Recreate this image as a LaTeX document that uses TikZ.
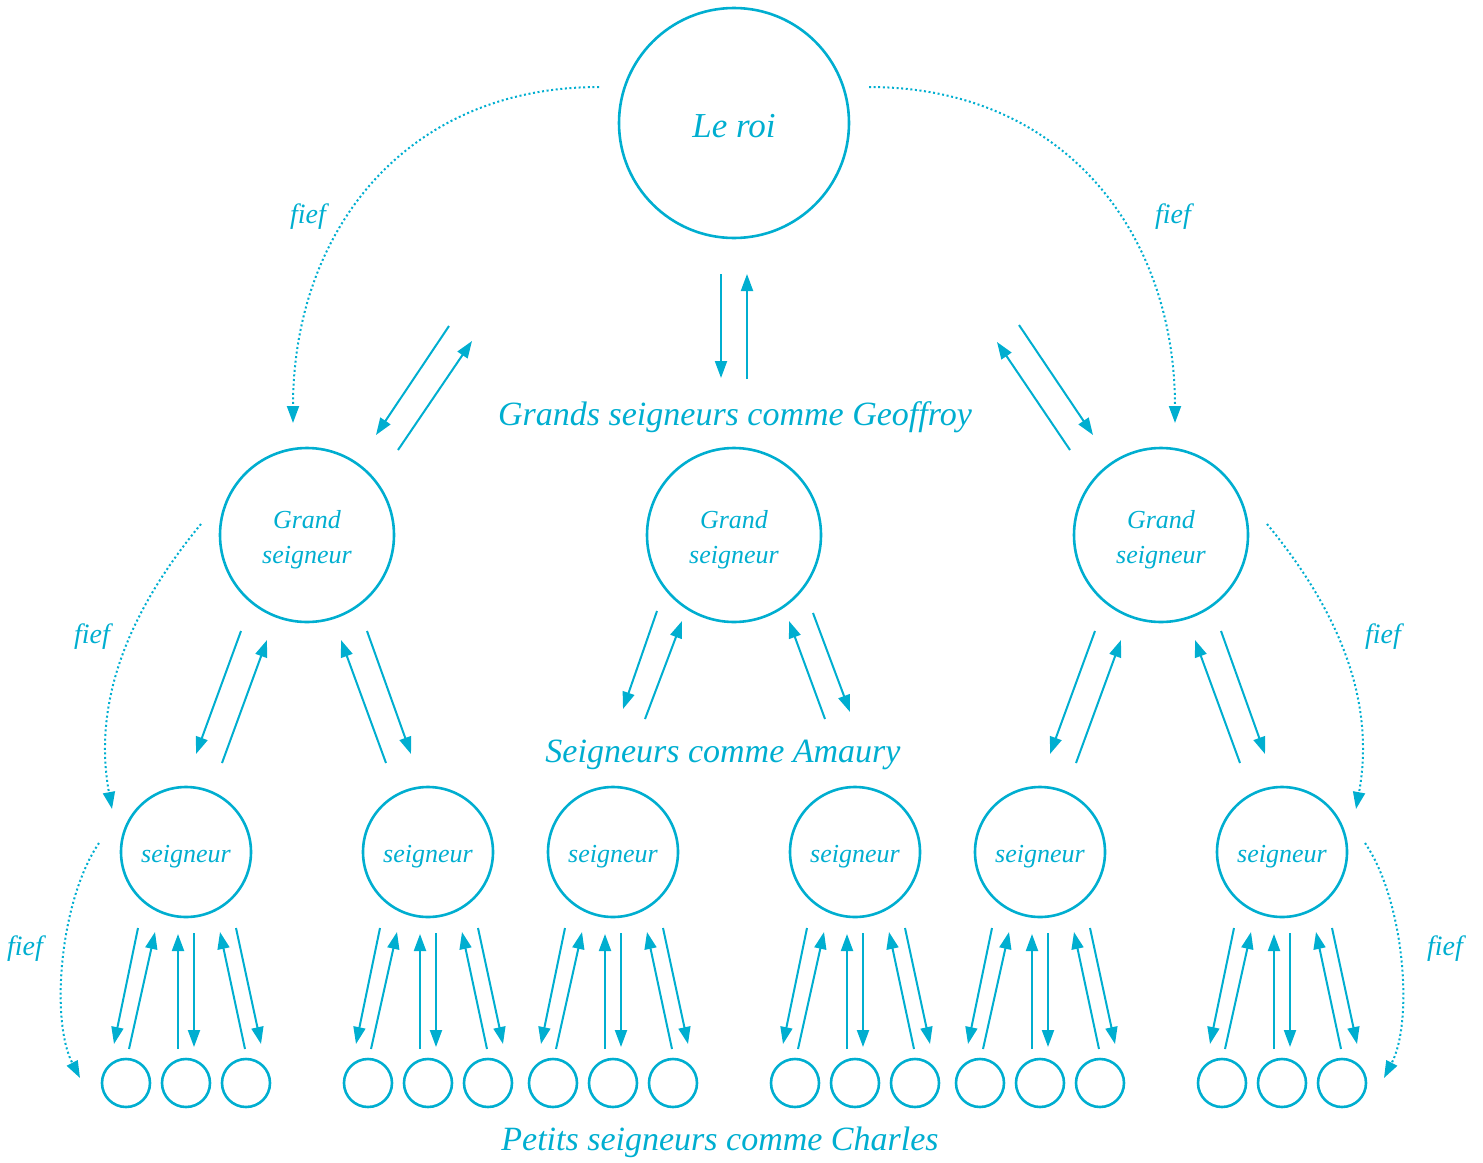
\documentclass[tikz,border=0pt]{standalone}
\usepackage{fontspec}
\setmainfont{Liberation Serif}
\usetikzlibrary{arrows.meta,calc}
\definecolor{fc}{RGB}{0,174,208}
\begin{document}
\begin{tikzpicture}[x=1pt,y=-1pt,
  every node/.style={text=fc,font=\itshape},
  circ/.style={draw=fc,circle,line width=2.6pt,inner sep=0pt},
  arr/.style={draw=fc,line width=2pt,-{Triangle[length=17pt,width=12pt]}},
  fiefarr/.style={draw=fc,line width=2pt,dash pattern=on 2pt off 2.6pt,-{Triangle[length=17pt,width=12pt]}},
  biglab/.style={font=\fontsize{34}{40}\selectfont\itshape,anchor=base},
  fieflab/.style={font=\fontsize{28}{32}\selectfont\itshape,anchor=base},
  midtxt/.style={font=\fontsize{26}{35}\selectfont\itshape,align=center}]
\useasboundingbox (0,0) rectangle (1483,1162);
% nodes
\node[circ,minimum size=230pt,font=\fontsize{35}{40}\selectfont\itshape,text height=28pt,text depth=0pt] (roi) at (734,123) {Le roi};
\node[circ,minimum size=174pt,midtxt,text height=63pt] (g1) at (307,535) {Grand\\seigneur};
\node[circ,minimum size=174pt,midtxt,text height=63pt] (g2) at (734,535) {Grand\\seigneur};
\node[circ,minimum size=174pt,midtxt,text height=63pt] (g3) at (1161,535) {Grand\\seigneur};
\foreach \n/\x in {s1/186,s2/428,s3/613,s4/855,s5/1040,s6/1282}{
  \node[circ,minimum size=130pt,midtxt,text height=27pt,text depth=6pt] (\n) at (\x,852) {seigneur};
  \foreach \k/\dx in {a/-60,b/0,c/60}{
    \node[circ,minimum size=48pt] (\n\k) at (\x+\dx,1083) {};
  }
}
% labels
\node[biglab] (lg) at (735,425) {Grands seigneurs comme Geoffroy};
\node[biglab] (ls) at (723,762) {Seigneurs comme Amaury};
\node[biglab] (lp) at (720,1150) {Petits seigneurs comme Charles};
\node[fieflab] (f1) at (308,223) {fief};
\node[fieflab] (f2) at (1173,223) {fief};
\node[fieflab] (f3) at (92,643) {fief};
\node[fieflab] (f4) at (1383,643) {fief};
\node[fieflab] (f5) at (25,955) {fief};
\node[fieflab] (f6) at (1445,955) {fief};
% roi arrows
\draw[arr] ($(roi)+(-13,151)$) -- ($(roi)+(-13,255)$);
\draw[arr] ($(roi)+(13,256)$) -- ($(roi)+(13,151)$);
\draw[arr] ($(roi)+(-285,203)$) -- ($(roi)+(-358,312)$);
\draw[arr] ($(roi)+(-336,327)$) -- ($(roi)+(-262,218)$);
\draw[arr] ($(roi)+(336,327)$) -- ($(roi)+(263,219)$);
\draw[arr] ($(roi)+(285,202)$) -- ($(roi)+(359,312)$);
% grand seigneur arrows (outer)
\foreach \g in {g1,g3}{
  \draw[arr] ($(\g)+(-66,96)$) -- ($(\g)+(-111,219)$);
  \draw[arr] ($(\g)+(-85,228)$) -- ($(\g)+(-40,105)$);
  \draw[arr] ($(\g)+(79,228)$) -- ($(\g)+(34,105)$);
  \draw[arr] ($(\g)+(60,96)$) -- ($(\g)+(104,219)$);
}
% middle grand seigneur
\draw[arr] ($(g2)+(-77,76)$) -- ($(g2)+(-111,174)$);
\draw[arr] ($(g2)+(-89,184)$) -- ($(g2)+(-52,86)$);
\draw[arr] ($(g2)+(91,184)$) -- ($(g2)+(55,86)$);
\draw[arr] ($(g2)+(79,78)$) -- ($(g2)+(116,177)$);
% seigneur arrows
\foreach \s in {s1,s2,s3,s4,s5,s6}{
  \draw[arr] ($(\s)+(-48,76)$) -- ($(\s)+(-72,192)$);
  \draw[arr] ($(\s)+(-57,197)$) -- ($(\s)+(-31,80)$);
  \draw[arr] ($(\s)+(-8,197)$) -- ($(\s)+(-8,82)$);
  \draw[arr] ($(\s)+(8,81)$) -- ($(\s)+(8,195)$);
  \draw[arr] ($(\s)+(59,197)$) -- ($(\s)+(34,80)$);
  \draw[arr] ($(\s)+(50,76)$) -- ($(\s)+(75,192)$);
}
% fief curves
\coordinate (a1) at (599,87);  \coordinate (b1) at (293,423);
\coordinate (a2) at (869,87);  \coordinate (b2) at (1175,423);
\coordinate (a3) at (201,524); \coordinate (b3) at (112,809);
\coordinate (a4) at (1267,524);\coordinate (b4) at (1356,809);
\coordinate (a5) at (99,843);  \coordinate (b5) at (80,1078);
\coordinate (a6) at (1365,843);\coordinate (b6) at (1384,1078);
\draw[fiefarr] (a1) .. controls (405,87) and (293,232) .. (b1);
\draw[fiefarr] (a2) .. controls (1063,87) and (1175,232) .. (b2);
\draw[fiefarr] (a3) .. controls (130,610) and (92,700) .. (b3);
\draw[fiefarr] (a4) .. controls (1338,610) and (1376,700) .. (b4);
\draw[fiefarr] (a5) .. controls (60,900) and (50,1020) .. (b5);
\draw[fiefarr] (a6) .. controls (1404,900) and (1414,1020) .. (b6);
\end{tikzpicture}
\end{document}
